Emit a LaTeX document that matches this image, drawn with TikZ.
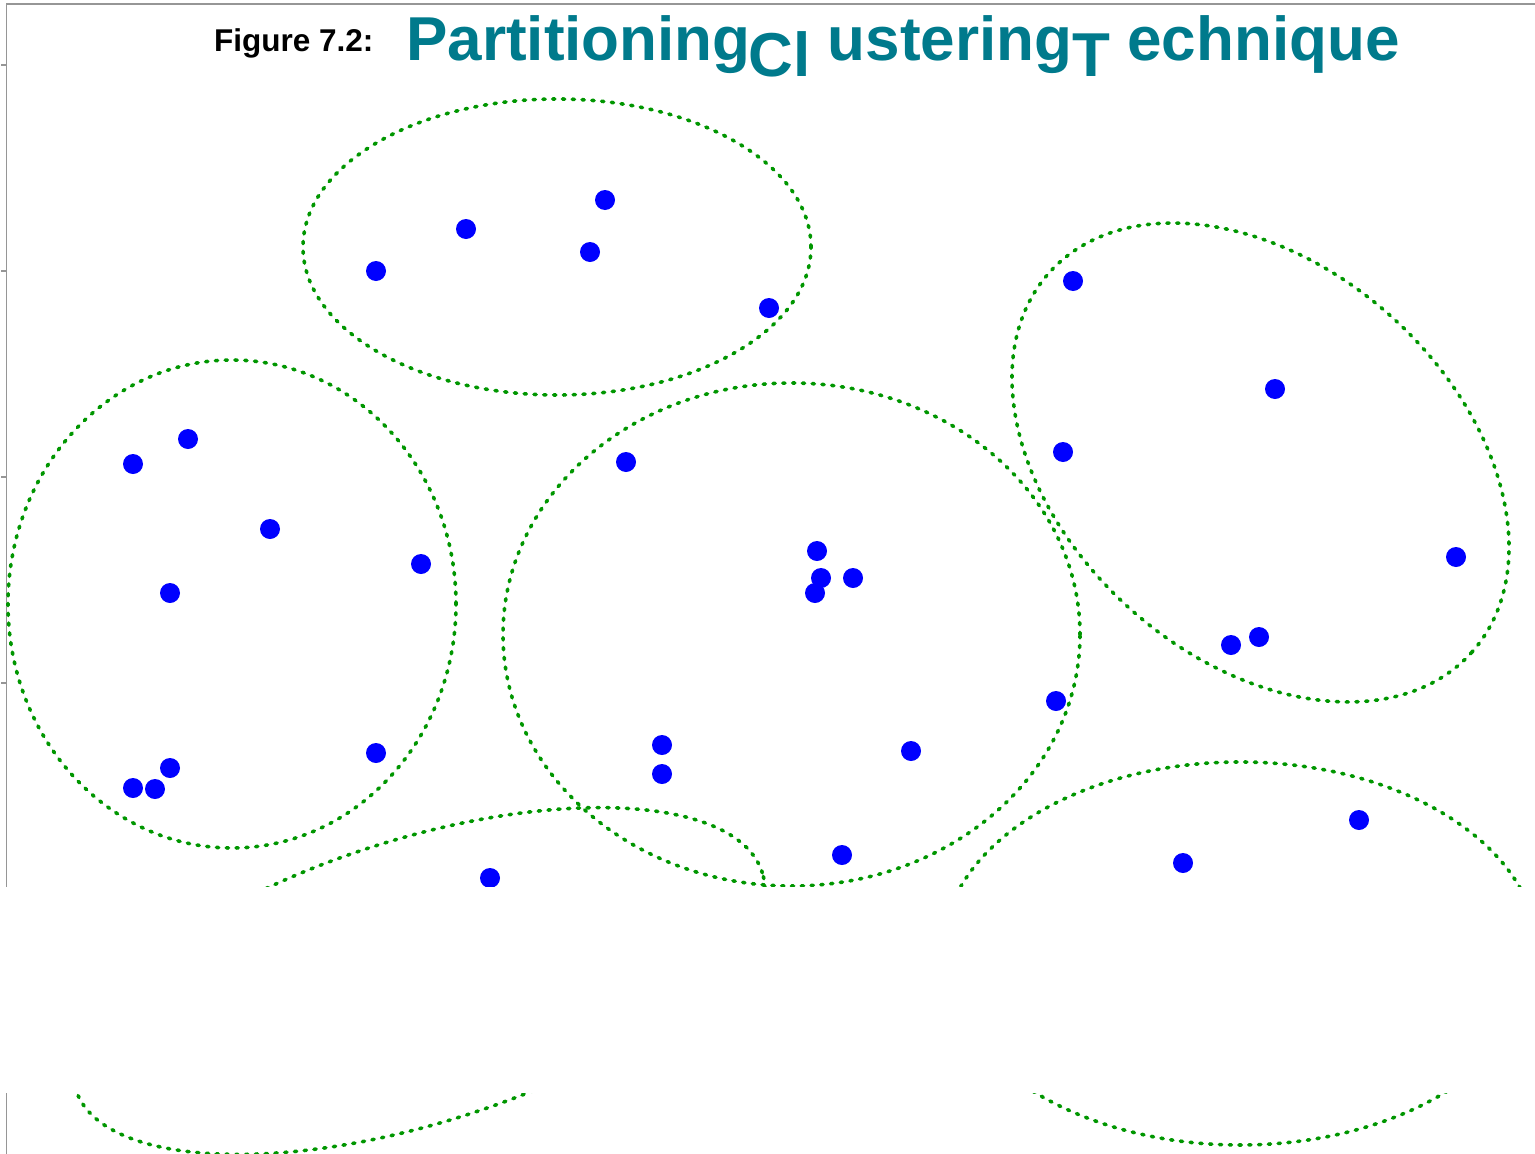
\documentclass[tikz,border=0pt]{standalone}
\usepackage{fontspec}
\setmainfont{Liberation Sans}
\definecolor{clustergreen}{RGB}{0,150,0}
\definecolor{titleteal}{RGB}{0,122,140}
\definecolor{axisgray}{RGB}{150,150,150}
\tikzset{
  cluster/.style={draw=clustergreen, line width=3.6pt, line cap=round, dash pattern=on 2.2pt off 7.6pt},
  datapt/.style={circle, fill=blue, inner sep=0pt, minimum size=20pt},
  axisline/.style={draw=axisgray, line width=1.6pt},
}
\begin{document}
\begin{tikzpicture}[x=1pt,y=1pt]
\useasboundingbox (0,0) rectangle (1535,-1154);

% frame: left and top axis lines with ticks
\coordinate (ax0) at (6.5,-4);
\coordinate (ax1) at (6.5,-1154);
\coordinate (ax2) at (1535,-4);
\draw[axisline] (ax1) -- (ax0) -- (ax2);
\foreach \ty in {65,271,477,683} {
  \draw[axisline, line width=1.2pt] (1,-\ty) -- (6.5,-\ty);
}

% cluster outlines
\draw[cluster] (557,-247) ellipse [x radius=254, y radius=148];
\draw[cluster] (232,-604) ellipse [x radius=224, y radius=244];
\draw[cluster] (791.5,-634.5) ellipse [x radius=288.5, y radius=251.5];
\draw[cluster, rotate around={-42:(1260.5,-462.5)}] (1260.5,-462.5) ellipse [x radius=284, y radius=196];
\draw[cluster, rotate around={17.5:(419,-981)}] (419,-981) ellipse [x radius=360, y radius=142];
\draw[cluster] (1240,-953.5) ellipse [x radius=298, y radius=191.5];

% data points
\foreach \px/\py [count=\i] in {
  605/200, 466/229, 590/252, 376/271, 769/308,
  1073/281, 1275/389, 1063/452, 1456/557, 1231/645, 1259/637, 1056/701,
  188/439, 133/464, 270/529, 421/564, 170/593, 376/753, 170/768, 133/788, 155/789,
  626/462, 817/551, 821/578, 853/578, 815/593, 662/745, 662/774, 911/751, 842/855,
  490/878, 1183/863, 1359/820} {
  \node[datapt] (p\i) at (\px,-\py) {};
}

% blank band across the lower part
\fill[white] (0,-887) rectangle (1535,-1093);

% title
\node[anchor=base west, inner sep=0pt, font=\fontsize{31.5}{38}\selectfont\bfseries] (figlabel) at (214,-51) {Figure 7.2:};
\node[anchor=base west, inner sep=0pt, text=titleteal, font=\fontsize{62}{74}\selectfont\bfseries] (figtitle) at (406,-60)
  {Partitioning\kern-2pt\raisebox{-16pt}{Cl} ustering\raisebox{-16pt}{T} echnique};
\end{tikzpicture}
\end{document}
